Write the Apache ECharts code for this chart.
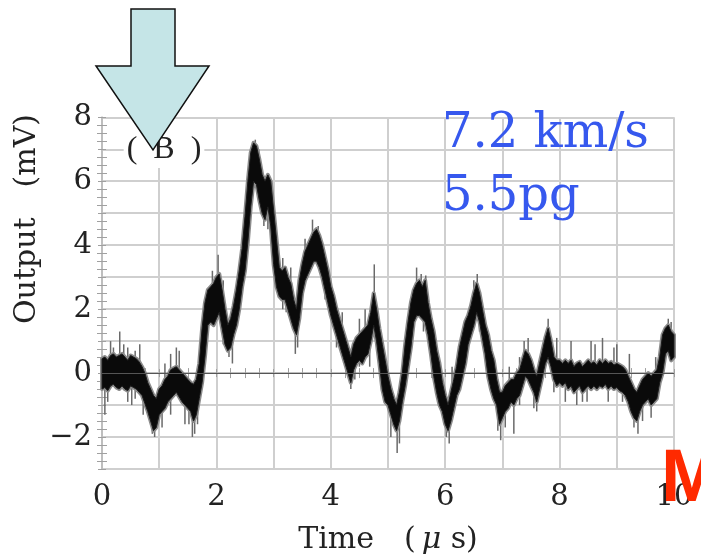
<!DOCTYPE html>
<html>
<head>
<meta charset="utf-8">
<script src="https://cdn.jsdelivr.net/npm/echarts/dist/echarts.min.js"></script>
<style>
  html, body { margin: 0; padding: 0; background: #ffffff; }
  #chart { width: 701px; height: 560px; }
</style>
</head>
<body>
<div id="chart"></div>
<script>
// Sample instants of the recorded trace (µs)
const sampleTimes = [
  0.00,0.05,0.10,0.15,0.20,0.25,0.30,0.35,0.40,0.45,
  0.50,0.55,0.60,0.65,0.70,0.75,0.80,0.85,0.90,0.95,
  1.00,1.05,1.10,1.15,1.20,1.25,1.30,1.35,1.40,1.45,
  1.50,1.55,1.60,1.65,1.70,1.75,1.80,1.85,1.90,1.95,
  2.00,2.05,2.10,2.15,2.20,2.25,2.30,2.35,2.40,2.45,
  2.50,2.55,2.60,2.65,2.70,2.75,2.80,2.85,2.90,2.95,
  3.00,3.05,3.10,3.15,3.20,3.25,3.30,3.35,3.40,3.45,
  3.50,3.55,3.60,3.65,3.70,3.75,3.80,3.85,3.90,3.95,
  4.00,4.05,4.10,4.15,4.20,4.25,4.30,4.35,4.40,4.45,
  4.50,4.55,4.60,4.65,4.70,4.75,4.80,4.85,4.90,4.95,
  5.00,5.05,5.10,5.15,5.20,5.25,5.30,5.35,5.40,5.45,
  5.50,5.55,5.60,5.65,5.70,5.75,5.80,5.85,5.90,5.95,
  6.00,6.05,6.10,6.15,6.20,6.25,6.30,6.35,6.40,6.45,
  6.50,6.55,6.60,6.65,6.70,6.75,6.80,6.85,6.90,6.95,
  7.00,7.05,7.10,7.15,7.20,7.25,7.30,7.35,7.40,7.45,
  7.50,7.55,7.60,7.65,7.70,7.75,7.80,7.85,7.90,7.95,
  8.00,8.05,8.10,8.15,8.20,8.25,8.30,8.35,8.40,8.45,
  8.50,8.55,8.60,8.65,8.70,8.75,8.80,8.85,8.90,8.95,
  9.00,9.05,9.10,9.15,9.20,9.25,9.30,9.35,9.40,9.45,
  9.50,9.55,9.60,9.65,9.70,9.75,9.80,9.85,9.90,9.95,
  10.00
];

// Lower edge of the noisy trace (mV)
const bandLow = [
  -0.5,-0.45,-0.55,-0.4,-0.35,-0.45,-0.5,-0.4,-0.5,-0.55,
  -0.4,-0.45,-0.5,-0.6,-0.7,-0.95,-1.2,-1.5,-1.8,-1.7,
  -1.3,-1.2,-1.1,-0.9,-0.8,-0.7,-0.6,-0.75,-0.9,-1.0,
  -1.1,-1.2,-1.5,-1.3,-0.8,-0.3,0.5,1.5,1.6,1.5,
  1.7,1.9,1.4,0.9,0.7,0.8,1.2,1.5,2.0,2.7,
  3.2,4.1,5.2,6.0,5.9,5.4,5.0,4.8,5.2,4.6,
  3.4,2.7,2.4,2.3,2.3,2.0,1.7,1.4,1.2,1.7,
  2.5,2.9,3.1,3.3,3.5,3.5,3.3,3.0,2.6,2.2,
  1.8,1.5,1.2,0.9,0.6,0.3,0.0,-0.3,0.1,0.3,
  0.4,0.3,0.5,0.6,1.0,1.5,1.0,0.3,-0.5,-0.9,
  -1.0,-1.3,-1.6,-1.8,-1.5,-0.9,-0.4,0.2,0.8,1.6,
  1.8,1.8,1.7,1.6,1.2,0.6,-0.1,-0.6,-1.0,-1.2,
  -1.6,-1.8,-1.5,-1.1,-0.7,-0.5,-0.1,0.3,0.9,1.2,
  1.5,1.9,1.6,1.1,0.6,-0.1,-0.5,-0.8,-1.0,-1.6,
  -1.4,-1.2,-1.1,-0.9,-1.0,-0.8,-0.7,-0.4,-0.1,-0.2,
  -0.4,-0.6,-0.9,-0.5,-0.1,0.3,0.5,0.2,-0.2,-0.4,
  -0.3,-0.4,-0.3,-0.5,-0.4,-0.6,-0.5,-0.4,-0.6,-0.5,
  -0.4,-0.5,-0.4,-0.5,-0.4,-0.45,-0.35,-0.5,-0.4,-0.5,
  -0.45,-0.55,-0.6,-0.7,-0.9,-1.2,-1.4,-1.5,-1.2,-1.0,
  -0.9,-0.8,-1.0,-0.9,-0.8,-0.3,0.0,0.6,0.7,0.4,
  0.5
];

// Upper edge of the noisy trace (mV)
const bandHigh = [
  0.45,0.5,0.4,0.55,0.6,0.5,0.55,0.6,0.5,0.4,
  0.55,0.5,0.45,0.35,0.2,0.0,-0.3,-0.5,-0.7,-0.8,
  -0.5,-0.4,-0.2,-0.1,0.1,0.15,0.2,0.1,0.0,-0.1,
  -0.2,-0.3,-0.35,-0.2,0.3,1.4,2.2,2.6,2.7,2.8,
  3.0,3.1,2.6,2.0,1.5,1.7,2.1,2.6,3.2,3.9,
  4.9,6.0,6.9,7.2,7.1,6.7,6.2,6.0,6.2,6.0,
  5.1,4.2,3.3,3.2,3.3,3.0,2.8,2.3,2.0,2.9,
  3.4,3.8,4.0,4.2,4.4,4.5,4.3,4.0,3.6,3.2,
  2.7,2.4,2.0,1.7,1.4,1.1,0.8,0.5,0.9,1.1,
  1.2,1.3,1.4,1.5,1.9,2.5,2.0,1.4,0.9,0.4,
  -0.1,-0.5,-0.8,-1.0,-0.6,0.0,0.9,1.6,2.2,2.6,
  2.8,2.9,2.7,2.9,2.2,1.7,1.3,0.7,0.3,-0.3,
  -0.7,-1.0,-0.6,-0.2,0.2,0.8,1.2,1.6,1.8,2.1,
  2.5,2.8,2.5,2.0,1.5,1.2,0.7,0.4,-0.2,-0.6,
  -0.6,-0.4,-0.3,-0.2,-0.2,0.0,0.1,0.4,0.7,0.6,
  0.4,0.1,-0.1,0.3,0.7,1.1,1.4,1.0,0.5,0.4,
  0.4,0.3,0.4,0.3,0.4,0.2,0.3,0.35,0.2,0.3,
  0.4,0.3,0.35,0.25,0.4,0.3,0.4,0.3,0.35,0.25,
  0.3,0.25,0.2,0.1,-0.1,-0.3,-0.5,-0.6,-0.4,-0.2,
  -0.1,0.0,-0.1,0.0,0.1,0.5,1.2,1.4,1.5,1.3,
  1.2
];

// Isolated noise spikes: [time µs, from mV, to mV]
const spikes = [
  [0.05,-1.3,0.5],[0.10,-0.9,-0.3],[0.15,0.4,1.0],[0.20,-0.3,0.8],[0.31,0.3,1.3],
  [0.38,0.4,0.9],[0.45,-0.9,0.8],[0.52,-1.0,-0.3],[0.58,-0.8,0.7],[0.66,0.2,0.9],
  [0.72,-1.3,-0.5],[0.88,-1.9,-1.2],[0.92,-2.0,-1.0],[1.05,-1.7,-1.0],[1.10,-0.4,0.3],
  [1.20,-1.3,0.6],[1.30,0.0,0.8],[1.35,0.0,0.7],[1.45,-1.6,0.0],[1.52,-1.6,-0.9],
  [1.58,-2.0,-0.8],[1.62,-1.9,-1.0],[1.67,-1.6,-0.9],[1.93,2.6,3.2],[2.03,2.5,3.7],
  [2.12,0.9,2.9],[2.22,0.5,1.2],[2.28,0.3,1.0],[2.38,2.4,3.0],[2.68,6.5,7.3],
  [2.74,6.4,7.0],[2.83,4.6,5.6],[2.90,4.5,5.2],[3.16,2.0,3.6],[3.22,1.9,2.6],
  [3.30,2.6,3.3],[3.38,0.6,1.6],[3.42,0.8,2.0],[3.55,3.6,4.2],[3.68,4.1,4.8],
  [3.78,4.0,4.6],[3.90,2.3,2.8],[4.10,0.8,1.5],[4.20,1.3,1.9],[4.35,-0.5,0.2],
  [4.42,-0.2,0.4],[4.50,0.2,1.7],[4.60,1.3,2.0],[4.68,0.2,0.8],[4.76,2.2,3.4],
  [5.05,-2.0,-1.2],[5.16,-2.5,-1.5],[5.20,-2.2,-1.2],[5.50,2.6,3.3],[5.58,2.5,3.1],
  [5.62,1.3,2.0],[5.66,2.6,3.05],[6.02,-2.0,-1.4],[6.07,-2.2,-1.5],[6.12,-0.5,0.2],
  [6.50,2.3,2.9],[6.56,2.6,3.1],[6.60,1.3,1.9],[6.92,-1.8,-1.1],[6.97,-2.1,-1.3],
  [7.05,-1.7,-1.0],[7.12,-0.5,0.2],[7.20,-1.9,-0.5],[7.30,-1.0,0.5],[7.38,0.3,1.0],
  [7.45,0.4,1.1],[7.55,-1.1,-0.4],[7.60,-1.2,-0.5],[7.80,1.0,1.7],[7.90,-0.6,0.0],
  [7.95,0.3,1.1],[8.10,-0.9,0.2],[8.20,0.3,1.0],[8.30,-1.0,-0.3],[8.40,-0.9,0.1],
  [8.48,-0.9,-0.3],[8.55,0.2,1.0],[8.62,0.3,0.9],[8.75,0.2,1.1],[8.85,-0.9,-0.3],
  [8.95,0.2,0.8],[9.00,0.2,0.9],[9.10,-0.9,-0.3],[9.22,0.0,0.6],[9.30,-1.7,-1.1],
  [9.37,-1.9,-1.2],[9.45,-1.5,-0.8],[9.60,-1.4,-0.8],[9.68,-0.1,0.5],[9.90,1.2,1.7],
  [9.95,1.2,1.6]
];

// Axis ranges and tick labels
const timeRange = [0, 10];
const outputRange = [-3, 8];
const timeTickLabels = ['0', '2', '4', '6', '8', '10'];
const outputTickLabels = ['\u22122', '0', '2', '4', '6', '8'];

const SERIF = 'DejaVu Serif';
const GRID = '#cfcfcf';
const FRAME = '#bdbdbd';

function labelFor(list) {
  return function (v) {
    const txt = (v < 0 ? '\u2212' : '') + Math.abs(v);
    return list.indexOf(txt) >= 0 ? txt : '';
  };
}

function axisCommon(extra) {
  return Object.assign({
    type: 'value',
    interval: 1,
    axisLine: { show: true, lineStyle: { color: FRAME, width: 1.5 } },
    axisTick: { show: true, inside: true, length: 4, lineStyle: { color: '#a0a0a0', width: 1 } },
    minorTick: { show: true, splitNumber: 4, length: 5, lineStyle: { color: '#a0a0a0', width: 1 } },
    splitLine: { show: false }
  }, extra);
}

const chart = echarts.init(document.getElementById('chart'), null, { renderer: 'canvas' });

chart.setOption({
  animation: false,
  backgroundColor: '#ffffff',
  grid: { left: 102, right: 27, top: 117.3, bottom: 87.3, containLabel: false },
  xAxis: [
    axisCommon({
      min: timeRange[0], max: timeRange[1], position: 'bottom',
      splitLine: { show: true, lineStyle: { color: GRID, width: 2 } },
      axisLabel: {
        formatter: labelFor(timeTickLabels), margin: 14,
        fontFamily: SERIF, fontSize: 29, color: '#222'
      },
      name: 'Time\u2002\u2002(\u2009{mu|\u03bc} s)',
      nameLocation: 'middle', nameGap: 56,
      nameTextStyle: {
        fontFamily: SERIF, fontSize: 30, color: '#222',
        rich: { mu: { fontFamily: SERIF, fontSize: 30, fontStyle: 'italic', color: '#222' } }
      }
    }),
    axisCommon({
      min: timeRange[0], max: timeRange[1], position: 'top',
      axisLabel: { show: false }
    })
  ],
  yAxis: [
    axisCommon({
      min: outputRange[0], max: outputRange[1], position: 'left',
      splitLine: { show: true, lineStyle: { color: GRID, width: 2 } },
      axisLabel: {
        formatter: labelFor(outputTickLabels), margin: 10,
        fontFamily: SERIF, fontSize: 29, color: '#222'
      }
    }),
    axisCommon({
      min: outputRange[0], max: outputRange[1], position: 'right',
      axisLabel: { show: false }
    })
  ],
  series: [
    {
      name: 'spikes',
      type: 'custom',
      z: 2,
      data: spikes,
      encode: { x: 0, y: [1, 2] },
      renderItem: function (params, api) {
        const a = api.coord([api.value(0), api.value(1)]);
        const b = api.coord([api.value(0), api.value(2)]);
        return {
          type: 'line',
          shape: { x1: a[0], y1: a[1], x2: b[0], y2: b[1] },
          style: { stroke: '#6a6a6a', lineWidth: 1.5 }
        };
      },
      markLine: {
        silent: true,
        symbol: 'none',
        label: { show: false },
        lineStyle: { color: '#555555', width: 1, type: 'solid' },
        data: [{ yAxis: 0 }]
      }
    },
    {
      name: 'Output',
      type: 'custom',
      z: 3,
      data: [[sampleTimes[0], bandLow[0]]],
      encode: { x: 0, y: 1 },
      renderItem: function (params, api) {
        const upper = sampleTimes.map(function (t, i) { return api.coord([t, bandHigh[i]]); });
        const lower = sampleTimes.map(function (t, i) { return api.coord([t, bandLow[i]]); }).reverse();
        const pts = upper.concat(lower);
        return {
          type: 'group',
          children: [
            { type: 'polygon', shape: { points: pts },
              style: { fill: 'none', stroke: '#8c8c8c', lineWidth: 4, lineJoin: 'round' } },
            { type: 'polygon', shape: { points: pts },
              style: { fill: '#0a0a0a', stroke: '#1c1c1c', lineWidth: 1, lineJoin: 'round' } }
          ]
        };
      }
    }
  ],
  graphic: [
    {
      type: 'text', x: 27, y: 219, rotation: Math.PI / 2, z: 10,
      style: {
        text: 'Output\u2003(mV)', font: '30px "DejaVu Serif"', fill: '#222',
        align: 'center', verticalAlign: 'middle'
      }
    },
    {
      type: 'text', x: 164, y: 150, z: 50,
      style: {
        text: '(\u2002B\u2002)', font: '32px "Liberation Serif"', fill: '#222',
        align: 'center', verticalAlign: 'middle',
        backgroundColor: '#ffffff', padding: [2, 3]
      }
    },
    {
      type: 'polygon', z: 100,
      shape: { points: [[131, 9], [175, 9], [175, 66], [209, 66], [153, 150], [96, 66], [131, 66]] },
      style: { fill: '#c5e5e7', stroke: '#111111', lineWidth: 1.5, lineJoin: 'miter' }
    },
    {
      type: 'text', x: 442, y: 135, z: 60,
      style: {
        text: '7.2 km/s', font: '48px "DejaVu Serif"', fill: '#3658ee',
        align: 'left', verticalAlign: 'middle'
      }
    },
    {
      type: 'text', x: 442, y: 198, z: 60,
      style: {
        text: '5.5pg', font: '48px "DejaVu Serif"', fill: '#3658ee',
        align: 'left', verticalAlign: 'middle'
      }
    },
    {
      type: 'text', x: 661, y: 481, z: 120,
      style: {
        text: 'M', font: 'bold 74px "Liberation Sans"', fill: '#ff2a00',
        align: 'left', verticalAlign: 'middle'
      }
    }
  ]
});
</script>
</body>
</html>
